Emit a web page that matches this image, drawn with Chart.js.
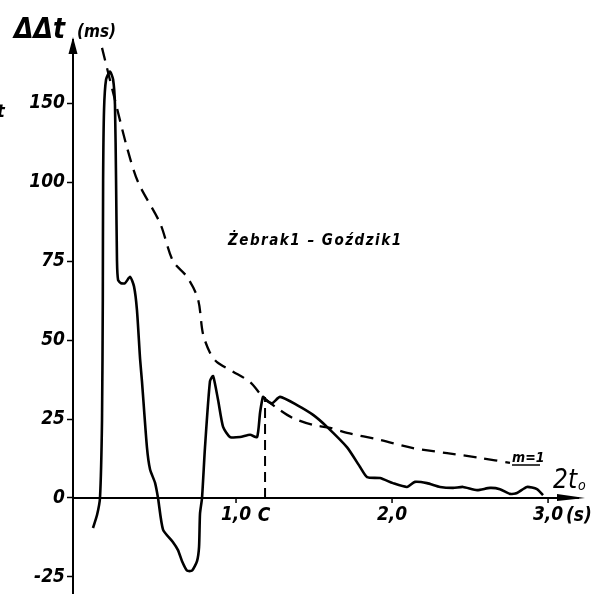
<!DOCTYPE html>
<html>
<head>
<meta charset="utf-8">
<script src="https://cdn.jsdelivr.net/npm/chart.js@4/dist/chart.umd.min.js"></script>
<style>
  html, body { margin: 0; padding: 0; background: #fff; }
  #wrap { width: 596px; height: 594px; }
</style>
</head>
<body>
<div id="wrap"><canvas id="grafico"></canvas></div>
<script>
// valores (tiempo en s, diferencia en ms)
const solidT = [0.083, 0.109, 0.128, 0.141, 0.146, 0.148, 0.154, 0.167, 0.192, 0.212, 0.224, 0.231, 0.237, 0.244,
  0.263, 0.288, 0.321, 0.346, 0.365, 0.385, 0.397, 0.429, 0.449, 0.481, 0.5, 0.532, 0.596, 0.628, 0.654, 0.686,
  0.718, 0.75, 0.763, 0.769, 0.782, 0.801, 0.833, 0.853, 0.885, 0.917, 0.962, 1.026, 1.09, 1.135, 1.154, 1.173,
  1.192, 1.231, 1.282, 1.391, 1.494, 1.583, 1.712, 1.795, 1.84, 1.923, 2.006, 2.096, 2.147, 2.224, 2.308, 2.391,
  2.455, 2.545, 2.628, 2.692, 2.756, 2.801, 2.865, 2.929, 2.968];
const solidMs = [-9.5, -5.4, 0, 24.7, 62.7, 101, 146, 165, 170, 165, 149, 101, 75, 69,
  68, 68, 70, 67, 59.5, 44, 37, 16, 9, 4.8, 0, -10, -14, -16.5, -20, -23,
  -23, -20, -15.5, -5, 0, 16, 37, 38.6, 31, 22.5, 19.3, 19.3, 20, 19.3, 27, 32,
  31, 30, 32, 29.4, 26.3, 22.5, 16, 9.8, 6.6, 6.3, 4.7, 3.5, 5.1, 4.7, 3.5, 3.2,
  3.5, 2.5, 3.2, 2.8, 1.3, 1.6, 3.5, 2.8, 0.9];

const dashT = [0.141, 0.224, 0.301, 0.372, 0.513, 0.596, 0.686, 0.756, 0.788, 0.833, 0.878, 0.981, 1.09, 1.173,
  1.282, 1.365, 1.494, 1.603, 1.712, 1.923, 2.135, 2.353, 2.564, 2.756];
const dashMs = [185, 152, 122, 100, 87, 75, 70, 63, 52, 46, 43, 40, 36.7, 32,
  27.8, 25.3, 23.1, 22.2, 20.6, 18.4, 15.8, 14.2, 12.7, 11.1];

// punto C
const cT = [1.186, 1.186];
const cMs = [0, 32];

// etiquetas de los ejes
const yTickMs = [-25, 0, 25, 50, 75, 100, 150];
const xTickT = [1, 2, 3];
const xTickLabels = ["1,0", "2,0", "3,0"];

// el eje vertical esta comprimido por encima de 100 ms (50 ms ocupan lo que 25 ms abajo)
function toAxis(v) {
  return v <= 100 ? v : 100 + (v - 100) / 2;
}
const toPts = (ts, vs) => ts.map((t, i) => ({ x: t, y: toAxis(vs[i]) }));

const FONT = "'Liberation Sans Narrow', 'DejaVu Sans Condensed', 'Liberation Sans', sans-serif";

const decor = {
  id: "decor",
  afterDraw(chart) {
    const ctx = chart.ctx;
    const xs = chart.scales.x;
    const ys = chart.scales.y;
    const area = chart.chartArea;
    const y0 = ys.getPixelForValue(0);
    ctx.save();
    ctx.strokeStyle = "#000";
    ctx.fillStyle = "#000";
    // eje x con flecha
    ctx.lineWidth = 2;
    ctx.beginPath();
    ctx.moveTo(area.left, y0);
    ctx.lineTo(area.right - 4, y0);
    ctx.stroke();
    ctx.beginPath();
    ctx.moveTo(area.right + 2, y0);
    ctx.lineTo(area.right - 26, y0 - 4);
    ctx.lineTo(area.right - 26, y0 + 3);
    ctx.closePath();
    ctx.fill();
    // flecha eje y
    ctx.beginPath();
    ctx.moveTo(area.left, area.top - 3);
    ctx.lineTo(area.left - 4.5, area.top + 14);
    ctx.lineTo(area.left + 4.5, area.top + 14);
    ctx.closePath();
    ctx.fill();
    // marcas y etiquetas del eje x
    ctx.font = "italic bold 19px " + FONT;
    ctx.textAlign = "center";
    ctx.textBaseline = "middle";
    xTickT.forEach((t, i) => {
      const px = xs.getPixelForValue(t);
      ctx.beginPath();
      ctx.moveTo(px, y0);
      ctx.lineTo(px, y0 + 5);
      ctx.lineWidth = 1.5;
      ctx.stroke();
      ctx.fillText(xTickLabels[i], px, y0 + 17);
    });
    ctx.fillText("C", xs.getPixelForValue(cT[0]) - 1, y0 + 18);
    ctx.textAlign = "left";
    ctx.fillText("(s)", xs.getPixelForValue(3) + 18, y0 + 18);
    // titulo eje y
    ctx.font = "italic bold 28px " + FONT;
    ctx.textBaseline = "alphabetic";
    ctx.fillText("ΔΔt", 14, 38);
    ctx.font = "italic bold 17px " + FONT;
    ctx.fillText("(ms)", 77, 37);
    // titulo eje x
    ctx.font = "italic 26px " + FONT;
    ctx.fillText("2t", 553, 488);
    ctx.font = "italic 14px " + FONT;
    ctx.fillText("o", 578, 490);
    // rotulos
    ctx.font = "italic bold 15px " + FONT;
    ctx.letterSpacing = "1.5px";
    ctx.fillText("Żebrak1 – Goździk1", 228, 245);
    ctx.letterSpacing = "0px";
    ctx.font = "italic bold 14px " + FONT;
    ctx.fillText("m=1", 512, 462);
    ctx.lineWidth = 1.5;
    ctx.beginPath();
    ctx.moveTo(512, 465);
    ctx.lineTo(540, 465);
    ctx.stroke();
    ctx.font = "italic bold 18px " + FONT;
    ctx.fillText("t", -3, 117);
    ctx.restore();
  },
};

new Chart(document.getElementById("grafico"), {
  type: "scatter",
  data: {
    datasets: [
      {
        label: "medido",
        data: toPts(solidT, solidMs),
        showLine: true,
        borderColor: "#000",
        borderWidth: 2.6,
        tension: 0.2,
        pointRadius: 0,
      },
      {
        label: "m=1",
        data: toPts(dashT, dashMs),
        showLine: true,
        borderColor: "#000",
        borderWidth: 2.3,
        borderDash: [13, 8],
        tension: 0.3,
        pointRadius: 0,
      },
      {
        label: "C",
        data: toPts(cT, cMs),
        showLine: true,
        borderColor: "#000",
        borderWidth: 2,
        borderDash: [10, 6],
        pointRadius: 0,
      },
    ],
  },
  options: {
    responsive: true,
    maintainAspectRatio: false,
    animation: false,
    layout: { padding: { left: 0, top: 40, right: 13, bottom: 0 } },
    plugins: { legend: { display: false }, tooltip: { enabled: false } },
    scales: {
      x: {
        type: "linear",
        display: false,
        min: -0.045,
        max: 3.224,
      },
      y: {
        type: "linear",
        min: -30.4,
        max: 145,
        afterFit: (s) => {
          s.width = 73;
          s.paddingTop = 0;
          s.paddingBottom = 0;
        },
        afterBuildTicks: (s) => { s.ticks = yTickMs.map((v) => ({ value: toAxis(v) })); },
        border: { display: true, color: "#000", width: 2 },
        grid: { drawOnChartArea: false, drawTicks: true, tickLength: 6, tickColor: "#000", tickWidth: 1.5 },
        ticks: {
          color: "#000",
          padding: 2,
          font: { family: FONT, size: 19, style: "italic", weight: "bold" },
          callback: (v, i) => String(yTickMs[i]),
        },
      },
    },
  },
  plugins: [decor],
});
</script>
</body>
</html>
